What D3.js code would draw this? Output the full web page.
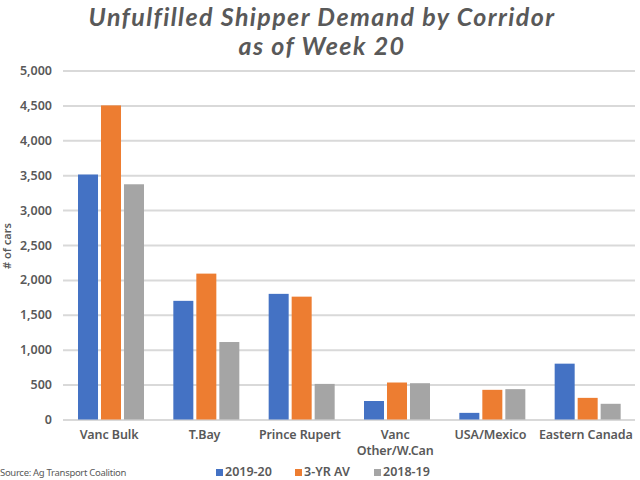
<!DOCTYPE html>
<html>
<head>
<meta charset="utf-8">
<script src="https://cdn.jsdelivr.net/npm/d3@7"></script>
<style>
  html, body { margin: 0; padding: 0; background: #fff; }
  text { font-family: "Noto Sans", sans-serif; fill: #595959; }
</style>
</head>
<body>
<svg id="chart" width="640" height="480"></svg>
<script>
var categories = ["Vanc Bulk", "T.Bay", "Prince Rupert", "Vanc Other/W.Can", "USA/Mexico", "Eastern Canada"];
var seriesNames = ["2019-20", "3-YR AV", "2018-19"];
var values2019 = [3510, 1700, 1800, 265, 95, 800];
var values3yr = [4500, 2090, 1760, 530, 425, 310];
var values2018 = [3370, 1110, 510, 520, 435, 225];
var yTicks = [0, 500, 1000, 1500, 2000, 2500, 3000, 3500, 4000, 4500, 5000];
var colors = ["#4472c4", "#ed7d31", "#a5a5a5"];

var svg = d3.select("#chart");
var allValues = [values2019, values3yr, values2018];

var xScale = d3.scaleBand().domain(categories).range([63, 635]);
var inner = d3.scaleBand().domain(seriesNames).range([15, 81]).paddingInner(0.13);
var yScale = d3.scaleLinear().domain([0, 5000]).range([419.5, 70.5]);

// title
var titleLines = ["Unfulfilled Shipper Demand by Corridor", "as of Week 20"];
titleLines.forEach(function (t, i) {
    svg.append("text").attr("x", 322).attr("y", 26 + i * 29).attr("text-anchor", "middle")
        .style("font-family", "Lato, sans-serif")
        .style("font-size", "25px").style("font-weight", 700).style("font-style", "italic")
        .style("letter-spacing", "1.4px")
        .text(t);
});

// gridlines and y axis
var yAxis = svg.append("g")
    .attr("transform", "translate(63,0)")
    .call(d3.axisLeft(yScale).tickValues(yTicks).tickSize(-572).tickPadding(11).tickFormat(d3.format(",")));
yAxis.select(".domain").remove();
yAxis.selectAll("line").attr("stroke", "#d9d9d9").attr("stroke-width", 2);
yAxis.selectAll("text").attr("fill", "#595959").style("font-size", "12.5px").style("font-weight", 600)
    .style("font-family", '"Noto Sans", sans-serif');

svg.append("text").attr("transform", "translate(11,246) rotate(-90)").attr("text-anchor", "middle")
    .style("font-size", "11px").style("font-weight", 600).text("# of cars");

// bars
allValues.forEach(function (vals, s) {
    svg.append("g").selectAll("rect")
        .data(vals)
        .enter().append("rect")
        .attr("x", function (d, i) { return xScale(categories[i]) + inner(seriesNames[s]); })
        .attr("y", function (d) { return yScale(d); })
        .attr("width", inner.bandwidth())
        .attr("height", function (d) { return yScale(0) - yScale(d); })
        .style("fill", colors[s]);
});

// category labels
var xLabels = svg.append("g");
categories.forEach(function (c) {
    var cx = xScale(c) + xScale.bandwidth() / 2 - 1.5;
    var lines = c === "Vanc Other/W.Can" ? ["Vanc", "Other/W.Can"] : [c];
    lines.forEach(function (t, i) {
        xLabels.append("text").attr("x", cx).attr("y", 439 + i * 16).attr("text-anchor", "middle")
            .style("font-size", "12.5px").style("font-weight", 600).style("letter-spacing", "-0.1px").text(t);
    });
});

// source
svg.append("text").attr("x", 0).attr("y", 476).style("font-size", "9.5px").style("letter-spacing", "-0.3px")
    .text("Source: Ag Transport Coalition");

// legend
var legendX = [216, 295, 374];
seriesNames.forEach(function (n, i) {
    svg.append("rect").attr("x", legendX[i]).attr("y", 469).attr("width", 7).attr("height", 7).style("fill", colors[i]);
    svg.append("text").attr("x", legendX[i] + 9).attr("y", 476)
        .style("font-size", "12.5px").style("font-weight", 600).text(n);
});
</script>
</body>
</html>
